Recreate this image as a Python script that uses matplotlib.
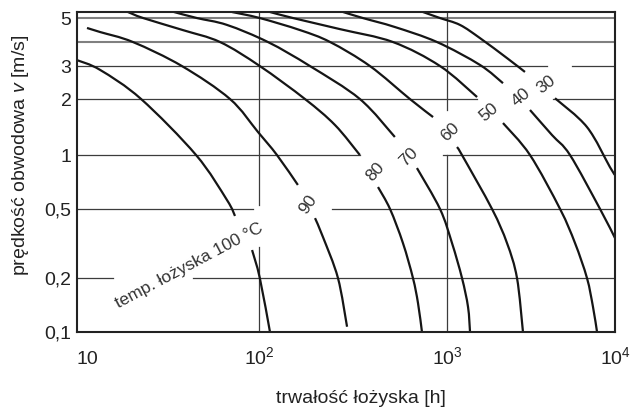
import numpy as np
import matplotlib
matplotlib.use("Agg")
import matplotlib.pyplot as plt
from matplotlib.path import Path
from matplotlib.patches import PathPatch

plt.rcParams['font.family'] = ['Liberation Sans', 'DejaVu Sans']
plt.rcParams['mathtext.fontset'] = 'custom'
plt.rcParams['mathtext.rm'] = 'Liberation Sans'
plt.rcParams['mathtext.it'] = 'Liberation Sans:italic'

# the nomogram is hand drawn: where each printed grid value sits on the axis
x_knots = [1, 10, 100, 1000, 10000, 100000]
x_knot_pos = [-182, 0, 182, 370, 538, 706]
y_knots = [0.01, 0.1, 0.2, 0.5, 1, 2, 3, 4, 5, 50]
y_knot_pos = [-177, 0, 54, 123, 177, 233, 266, 290, 314, 561]

x_ticks = [10, 100, 1000, 10000]
x_ticklabels = ['10', '$10^2$', '$10^3$', '$10^4$']
y_ticks = [0.1, 0.2, 0.5, 1, 2, 3, 5]
y_ticklabels = ['0,1', '0,2', '0,5', '1', '2', '3', '5']

# bearing life [h] vs peripheral speed [m/s], one curve per bearing temperature
# each curve is broken where its label sits
t100_upper = [(10, 3.22), (13.4, 2.86), (22.5, 2.0), (45.1, 1.0), (66.7, 0.561), (73.8, 0.456)]
t100_lower = [(91.6, 0.290), (101, 0.2), (114.4, 0.1)]
t90_upper = [(11.35, 4.56), (13.4, 4.39), (20.3, 4.0), (37.7, 3.0), (69.3, 2.0), (98.7, 1.33),
             (124.6, 1.0), (161, 0.681)]
t90_lower = [(198.6, 0.443), (218.8, 0.345), (263, 0.2), (294, 0.107)]
t80_upper = [(19.05, 5.29), (23.1, 5.0), (38.2, 4.47), (61.1, 4.0), (101, 3.0), (175.6, 2.0),
             (253.6, 1.45), (344, 1.0)]
t80_lower = [(429.5, 0.663), (497.7, 0.5), (583, 0.318), (659, 0.2), (701, 0.145), (736, 0.1)]
t70_upper = [(34.1, 5.29), (45.6, 5.0), (66.7, 4.69), (111.6, 4.0), (186.6, 3.0), (344, 2.0),
             (528, 1.25)]
t70_lower = [(692, 0.846), (918, 0.5), (1071, 0.318), (1228, 0.2), (1334, 0.138), (1371, 0.1)]
t60_upper = [(71.1, 5.29), (101, 5.0), (165.3, 4.47), (239, 4.0), (389, 3.0), (635, 2.0),
             (843, 1.60)]
t60_lower = [(1147, 1.104), (1228, 1.0), (1854, 0.5), (2276, 0.318), (2610, 0.2), (2833, 0.1)]
t50_upper = [(114.4, 5.29), (151.7, 5.0), (269.8, 4.51), (516, 4.0), (918, 3.0), (1510, 2.05)]
t50_lower = [(2154, 1.486), (3119, 1.0), (4711, 0.5), (5781, 0.318), (6810, 0.2), (7396, 0.138),
             (7818, 0.1)]
t40_upper = [(280, 5.29), (357, 5.0), (528, 4.60), (885, 4.0), (1571, 3.04), (2154, 2.43)]
t40_lower = [(3119, 1.746), (4217, 1.281), (5397, 1.0), (8148, 0.5), (10000, 0.340)]
t30_upper = [(745, 5.29), (918, 5.0), (1195, 4.69), (1571, 4.15), (2276, 3.30), (2911, 2.79)]
t30_lower = [(4394, 2.02), (6810, 1.414), (9325, 0.857), (10000, 0.774)]

curves = [t100_upper, t100_lower, t90_upper, t90_lower, t80_upper, t80_lower,
          t70_upper, t70_lower, t60_upper, t60_lower, t50_upper, t50_lower,
          t40_upper, t40_lower, t30_upper, t30_lower]

# label text, position (x, v), rotation
curve_labels = [('temp. łożyska 100 °C', 41.2, 0.2346, 28),
                ('90', 182.4, 0.533, 55),
                ('80', 414, 0.804, 48),
                ('70', 628, 0.974, 45),
                ('60', 1042, 1.33, 43),
                ('50', 1778, 1.70, 40),
                ('40', 2755, 2.05, 40),
                ('30', 3882, 2.38, 38)]

# grid lines with the gaps left around the labels
hgrid = [(5, 10, 10000), (4, 10, 10000),
         (3, 10, 3936), (3, 5546, 10000),
         (2, 10, 1510), (2, 4276, 10000),
         (1, 10, 344), (1, 953, 10000),
         (0.5, 10, 92.7), (0.5, 244.5, 10000),
         (0.2, 10, 15.8), (0.2, 43.4, 10000)]
vgrid = [(100, 0.1, 0.302), (100, 0.527, 5.29),
         (1000, 0.1, 1.0), (1000, 1.746, 5.29)]

XMIN, XMAX = 10, 10000
YMIN, YMAX = 0.1, 5.29


def make_scale(knots, pos):
    lk = np.log10(knots)

    def fwd(v):
        with np.errstate(divide='ignore', invalid='ignore'):
            return np.interp(np.log10(np.asarray(v, dtype=float)), lk, pos)

    def inv(p):
        return 10 ** np.interp(np.asarray(p, dtype=float), pos, lk)
    return fwd, inv


xfwd, xinv = make_scale(x_knots, x_knot_pos)
yfwd, yinv = make_scale(y_knots, y_knot_pos)


def smooth_path(pts):
    # draw the read points as one smooth stroke (Catmull-Rom handles, in axis space)
    a = np.array(pts, dtype=float)
    L = np.column_stack([xfwd(a[:, 0]), yfwd(a[:, 1])])
    n = len(L)
    verts = [L[0]]
    codes = [Path.MOVETO]
    for i in range(n - 1):
        p0 = L[i - 1] if i > 0 else L[i]
        p1, p2 = L[i], L[i + 1]
        p3 = L[i + 2] if i + 2 < n else L[i + 1]
        verts += [p1 + (p2 - p0) / 6, p2 - (p3 - p1) / 6, p2]
        codes += [Path.CURVE4] * 3
    v = np.array(verts)
    return Path(np.column_stack([xinv(v[:, 0]), yinv(v[:, 1])]), codes)


fig = plt.figure(figsize=(6.34, 4.09), dpi=100)
ax = fig.add_axes([77 / 634, 77 / 409, 538 / 634, 320 / 409])
ax.set_xscale('function', functions=(xfwd, xinv))
ax.set_yscale('function', functions=(yfwd, yinv))
ax.set_xlim(XMIN, XMAX)
ax.set_ylim(YMIN, YMAX)

for v, x0, x1 in hgrid:
    thin = v < 4
    ax.plot([x0, x1], [v, v], color='#3c3c3c' if thin else '#808080',
            lw=0.9 if thin else 1.5, zorder=1)
for x, v0, v1 in vgrid:
    ax.plot([x, x], [v0, v1], color='#3c3c3c', lw=0.9, zorder=1)

for c in curves:
    ax.add_patch(PathPatch(smooth_path(c), fill=False, edgecolor='#151515',
                           lw=1.6, zorder=2, capstyle='butt'))

for txt, x, v, rot in curve_labels:
    ax.text(x, v, txt, fontsize=12.5, color='#333333', rotation=rot,
            ha='center', va='center', rotation_mode='anchor')

ax.set_xticks(x_ticks)
ax.set_xticklabels(x_ticklabels)
ax.set_yticks(y_ticks)
ax.set_yticklabels(y_ticklabels)
ax.minorticks_off()
ax.tick_params(axis='both', length=0, labelsize=14, colors='#222222')
ax.tick_params(axis='y', pad=4)
ax.tick_params(axis='x', pad=23)
for lbl in ax.get_xticklabels():
    lbl.set_verticalalignment('baseline')
ax.get_xticklabels()[0].set_horizontalalignment('left')

for s in ax.spines.values():
    s.set_linewidth(1.5)
    s.set_color('#222222')

ax.set_xlabel('trwałość łożyska [h]', fontsize=14, color='#222222')
ax.xaxis.set_label_coords(0.528, -0.18)
ax.set_ylabel('prędkość obwodowa $v$ [m/s]', fontsize=14, color='#222222')
ax.yaxis.set_label_coords(-0.0855, 0.553)

fig.savefig('out.png', dpi=100)
